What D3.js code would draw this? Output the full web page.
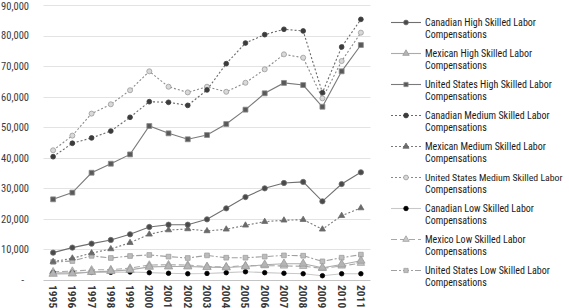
<!DOCTYPE html>
<html>
<head>
<meta charset="utf-8">
<script src="https://cdn.jsdelivr.net/npm/d3@7"></script>
<style>
  body { margin: 0; background: #fff; }
  svg { display: block; }
</style>
</head>
<body>
<div class="chart"></div>
<script>
var years = ["1995", "1996", "1997", "1998", "1999", "2000", "2001", "2002", "2003",
             "2004", "2005", "2006", "2007", "2008", "2009", "2010", "2011"];

var yTicks = [0, 10000, 20000, 30000, 40000, 50000, 60000, 70000, 80000, 90000];

var canadaHigh = [8950, 10600, 11900, 13100, 14950, 17350, 18100, 18100, 19850,
                  23450, 27150, 30000, 31750, 32100, 25750, 31400, 35250];
var mexicoHigh = [2000, 2100, 2600, 2900, 3300, 4300, 4400, 4400, 4200,
                  4100, 4400, 5000, 5300, 5300, 4000, 5100, 6300];
var usHigh = [26400, 28600, 35100, 38050, 41100, 50400, 48000, 46050, 47450,
              51050, 55750, 61100, 64500, 63800, 56700, 68300, 76900];
var canadaMedium = [40350, 44750, 46500, 48750, 53250, 58350, 58150, 57150, 62200,
                    70800, 77550, 80300, 82050, 81500, 61300, 76250, 85300];
var mexicoMedium = [6000, 7100, 8800, 10150, 12200, 14950, 16350, 16700, 16050,
                    16600, 17900, 19100, 19550, 19750, 16600, 21050, 23550];
var usMedium = [42450, 47250, 54450, 57500, 62100, 68300, 63250, 61400, 63250,
                61600, 64550, 68950, 73850, 72750, 59450, 71650, 80950];
var canadaLow = [2400, 2400, 2500, 2500, 2600, 2400, 2200, 2050, 2150,
                 2400, 2700, 2400, 2200, 2050, 1400, 2050, 2050];
var mexicoLow = [2700, 2900, 3300, 3400, 3900, 4900, 5000, 4900, 4400,
                 4300, 4700, 4700, 4600, 4500, 3800, 4600, 5500];
var usLow = [5900, 6200, 7900, 7200, 7850, 8200, 7650, 7200, 8050,
             7300, 7300, 7650, 8050, 7950, 6100, 7300, 8300];

var seriesNames = [
    "Canadian High Skilled Labor Compensations",
    "Mexican High Skilled Labor Compensations",
    "United States High Skilled Labor Compensations",
    "Canadian Medium Skilled Labor Compensations",
    "Mexican Medium Skilled Labor Compensations",
    "United States Medium Skilled Labor Compensations",
    "Canadian Low Skilled Labor Compensations",
    "Mexico  Low Skilled Labor Compensations",
    "United States Low Skilled Labor Compensations"
];

var seriesValues = [canadaHigh, mexicoHigh, usHigh, canadaMedium, mexicoMedium,
                    usMedium, canadaLow, mexicoLow, usLow];

// line / marker look for each series, same order as above
var styles = [
    { stroke: "#6f6f6f", dash: null,      shape: d3.symbolCircle,   size: 22, fill: "#4a4a4a", mstroke: "#6f6f6f" },
    { stroke: "#ababab", dash: null,      shape: d3.symbolTriangle, size: 30, fill: "#b4b4b4", mstroke: "#9a9a9a" },
    { stroke: "#7a7a7a", dash: null,      shape: d3.symbolSquare,   size: 24, fill: "#595959", mstroke: "#8a8a8a" },
    { stroke: "#6a6a6a", dash: "2,2",     shape: d3.symbolCircle,   size: 18, fill: "#3c3c3c", mstroke: "#3c3c3c" },
    { stroke: "#7a7a7a", dash: "2,2",     shape: d3.symbolTriangle, size: 16, fill: "#6a6a6a", mstroke: "#6a6a6a" },
    { stroke: "#8a8a8a", dash: "2,2",     shape: d3.symbolCircle,   size: 20, fill: "#d9d9d9", mstroke: "#9a9a9a" },
    { stroke: "#c8c8c8", dash: null,      shape: d3.symbolCircle,   size: 16, fill: "#000",    mstroke: "#000" },
    { stroke: "#a8a8a8", dash: "6,3",     shape: d3.symbolTriangle, size: 24, fill: "#c8c8c8", mstroke: "#a0a0a0" },
    { stroke: "#a0a0a0", dash: "6,2,2,2", shape: d3.symbolSquare,   size: 22, fill: "#bdbdbd", mstroke: "#a0a0a0" }
];

var width = 569, height = 308;
var plotLeft = 43.5, plotRight = 370.5, plotTop = 5, plotBottom = 280;
var font = "'Liberation Sans Narrow', 'Roboto Condensed', 'Liberation Sans', Arial, sans-serif";

var svg = d3.select(".chart")
            .append("svg")
            .attr("width", width)
            .attr("height", height);

var x = d3.scaleBand()
          .domain(years)
          .range([plotLeft, plotRight]);

var y = d3.scaleLinear()
          .domain([0, 90000])
          .range([plotBottom, plotTop]);

// shrink a text's font if the fallback font runs wider than the room it has
function fitText(sel, maxWidth) {
    sel.each(function() {
        var len = this.getComputedTextLength();
        if (len > maxWidth) {
            var size = parseFloat(d3.select(this).attr("font-size"));
            d3.select(this).attr("font-size", Math.floor(size * maxWidth / len * 10) / 10);
        }
    });
}

// gridlines
svg.append("g")
    .selectAll("line")
    .data(yTicks.slice(1))
    .enter().append("line")
    .attr("x1", plotLeft)
    .attr("x2", plotRight)
    .attr("y1", function(d) { return Math.round(y(d)) + 0.5; })
    .attr("y2", function(d) { return Math.round(y(d)) + 0.5; })
    .attr("stroke", "#e3e3e3")
    .attr("stroke-width", 1);

// y axis labels
var yAxis = d3.axisLeft(y)
              .tickValues(yTicks)
              .tickSize(0)
              .tickPadding(0)
              .tickFormat(function(d) { return d === 0 ? "-" : d3.format(",")(d); });

var yg = svg.append("g")
    .attr("transform", "translate(29,0)")
    .call(yAxis);
yg.select(".domain").remove();
yg.selectAll("text")
    .attr("font-family", font)
    .attr("font-size", 11.5)
    .attr("fill", "#3a3a3a");
yg.selectAll("text")
    .filter(function(d) { return d === 0; })
    .attr("dx", -5);
yg.selectAll("text")
    .filter(function(d) { return d === 90000; })
    .attr("dy", "0.45em");
fitText(yg.selectAll("text"), 28);

// x axis with rotated year labels
var xAxis = d3.axisBottom(x).tickSize(0).tickPadding(0);
var xg = svg.append("g")
    .attr("transform", "translate(0," + plotBottom + ")")
    .call(xAxis);
xg.select(".domain")
    .attr("stroke", "#c4c4c4")
    .attr("d", "M" + plotLeft + ",0.5H" + plotRight);
xg.selectAll("text")
    .attr("font-family", font)
    .attr("font-size", 11.5)
    .attr("font-weight", "bold")
    .attr("fill", "#3a3a3a")
    .attr("text-anchor", "start")
    .attr("transform", "rotate(90)")
    .attr("x", 5)
    .attr("y", 0)
    .attr("dy", "0.35em");

var line = d3.line()
             .x(function(d, i) { return x(years[i]) + x.bandwidth() / 2; })
             .y(function(d) { return y(d); });

// draw lows first so highs sit on top
var drawOrder = [8, 7, 6, 5, 4, 3, 2, 1, 0];

drawOrder.forEach(function(k) {
    var st = styles[k];
    var g = svg.append("g");

    g.append("path")
        .datum(seriesValues[k])
        .attr("d", line)
        .attr("fill", "none")
        .attr("stroke", st.stroke)
        .attr("stroke-width", 1.1)
        .attr("stroke-dasharray", st.dash);

    g.selectAll("path.marker")
        .data(seriesValues[k])
        .enter().append("path")
        .attr("class", "marker")
        .attr("d", d3.symbol().type(st.shape).size(st.size))
        .attr("transform", function(d, i) {
            return "translate(" + (x(years[i]) + x.bandwidth() / 2) + "," + y(d) + ")";
        })
        .attr("fill", st.fill)
        .attr("stroke", st.mstroke)
        .attr("stroke-width", 0.8);
});

// legend
var legend = svg.append("g");
var legendTop = 22, legendStep = 31;

seriesNames.forEach(function(name, k) {
    var st = styles[k];
    var cy = legendTop + k * legendStep;
    var item = legend.append("g").attr("transform", "translate(0," + cy + ")");

    item.append("line")
        .attr("x1", 391)
        .attr("x2", 421)
        .attr("y1", 0.5)
        .attr("y2", 0.5)
        .attr("stroke", st.stroke)
        .attr("stroke-width", 1.1)
        .attr("stroke-dasharray", st.dash);

    item.append("path")
        .attr("d", d3.symbol().type(st.shape).size(Math.min(st.size, 18)))
        .attr("transform", "translate(406,0.5)")
        .attr("fill", st.fill)
        .attr("stroke", st.mstroke)
        .attr("stroke-width", 0.8);

    var words = name.split(" Compensations")[0];
    var first = item.append("text")
        .attr("x", 425)
        .attr("y", 4)
        .attr("font-family", font)
        .attr("font-size", 10)
        .attr("fill", "#1a1a1a")
        .text(words);
    item.append("text")
        .attr("x", 425)
        .attr("y", 16)
        .attr("font-family", font)
        .attr("font-size", 10)
        .attr("fill", "#1a1a1a")
        .text("Compensations");
    fitText(first, 138);
});
</script>
</body>
</html>
